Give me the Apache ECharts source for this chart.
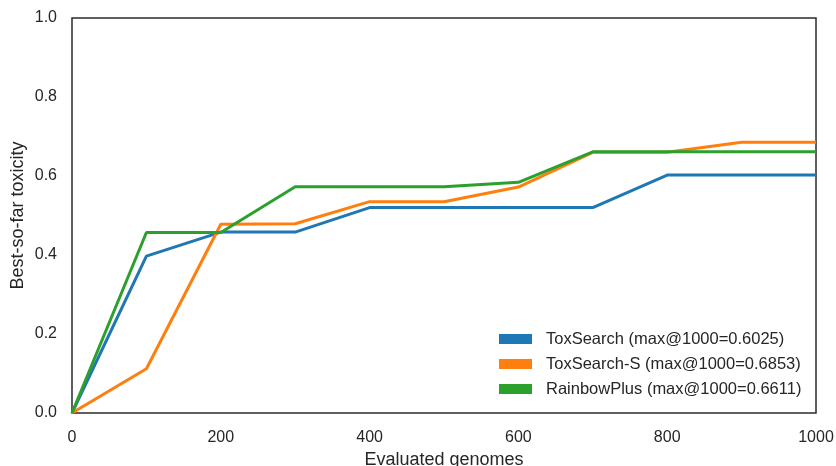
<!DOCTYPE html>
<html>
<head>
<meta charset="utf-8">
<style>
  html, body { margin: 0; padding: 0; background: #ffffff; }
  #chart { width: 836px; height: 466px; }
</style>
<script src="https://cdn.jsdelivr.net/npm/echarts@6/dist/echarts.min.js"></script>
</head>
<body>
<div id="chart"></div>
<script>
// Evaluated genomes (x) and best-so-far toxicity for each method
const genomes = [0, 100, 200, 300, 400, 500, 600, 700, 800, 900, 1000];
const toxSearch  = [0.0, 0.397, 0.458, 0.458, 0.520, 0.520, 0.520, 0.520, 0.6025, 0.6025, 0.6025];
const toxSearchS = [0.0, 0.112, 0.478, 0.479, 0.535, 0.535, 0.572, 0.660, 0.660, 0.6853, 0.6853];
const rainbowPlus = [0.0, 0.457, 0.457, 0.573, 0.573, 0.573, 0.584, 0.6611, 0.6611, 0.6611, 0.6611];

const seriesNames = [
  'ToxSearch (max@1000=0.6025)',
  'ToxSearch-S (max@1000=0.6853)',
  'RainbowPlus (max@1000=0.6611)'
];
const seriesColors = ['#1f77b4', '#ff7f0e', '#2ca02c'];
const xTicks = { min: 0, max: 1000, interval: 200 };
const yTicks = { min: 0, max: 1.0, interval: 0.2 };

const FONT = '"Liberation Sans", Arial, sans-serif';
const TEXT = '#262626';

const pairs = ys => genomes.map((g, i) => [g, ys[i]]);

const chart = echarts.init(document.getElementById('chart'), null, { renderer: 'canvas' });

chart.setOption({
  animation: false,
  backgroundColor: '#ffffff',
  textStyle: { fontFamily: FONT, color: TEXT },
  grid: {
    left: 72, right: 20, top: 18, bottom: 53,
    outerBoundsMode: 'none',
    containLabel: false,
    show: true,
    borderColor: '#2b2b2b',
    borderWidth: 1.5,
    backgroundColor: 'transparent'
  },
  legend: {
    orient: 'vertical',
    left: 499,
    top: 329,
    padding: 0,
    itemGap: 5,
    itemWidth: 33,
    itemHeight: 10,
    icon: 'rect',
    selectedMode: false,
    data: seriesNames,
    textStyle: {
      fontFamily: FONT, fontSize: 16.5, color: TEXT,
      lineHeight: 20, padding: [0, 0, 0, 9]
    }
  },
  xAxis: {
    type: 'value',
    min: xTicks.min, max: xTicks.max, interval: xTicks.interval,
    name: 'Evaluated genomes',
    nameLocation: 'middle',
    nameGap: 36,
    nameTextStyle: { fontFamily: FONT, fontSize: 18, color: TEXT },
    axisLine: { show: false },
    axisTick: { show: false },
    splitLine: { show: false },
    axisLabel: {
      fontFamily: FONT, fontSize: 16, color: TEXT, margin: 17,
      formatter: v => String(v)
    }
  },
  yAxis: {
    type: 'value',
    min: yTicks.min, max: yTicks.max, interval: yTicks.interval,
    name: 'Best-so-far toxicity',
    nameLocation: 'middle',
    nameGap: 45,
    nameMoveOverlap: false,
    nameTextStyle: { fontFamily: FONT, fontSize: 18, color: TEXT },
    axisLine: { show: false },
    axisTick: { show: false },
    splitLine: { show: false },
    axisLabel: {
      fontFamily: FONT, fontSize: 16, color: TEXT, margin: 15,
      formatter: v => v.toFixed(1)
    }
  },
  series: [toxSearch, toxSearchS, rainbowPlus].map((ys, i) => ({
    name: seriesNames[i],
    type: 'line',
    data: pairs(ys),
    symbol: 'none',
    color: seriesColors[i],
    lineStyle: { width: 3, color: seriesColors[i] },
    clip: false,
    z: 2 + i
  }))
});
</script>
</body>
</html>
